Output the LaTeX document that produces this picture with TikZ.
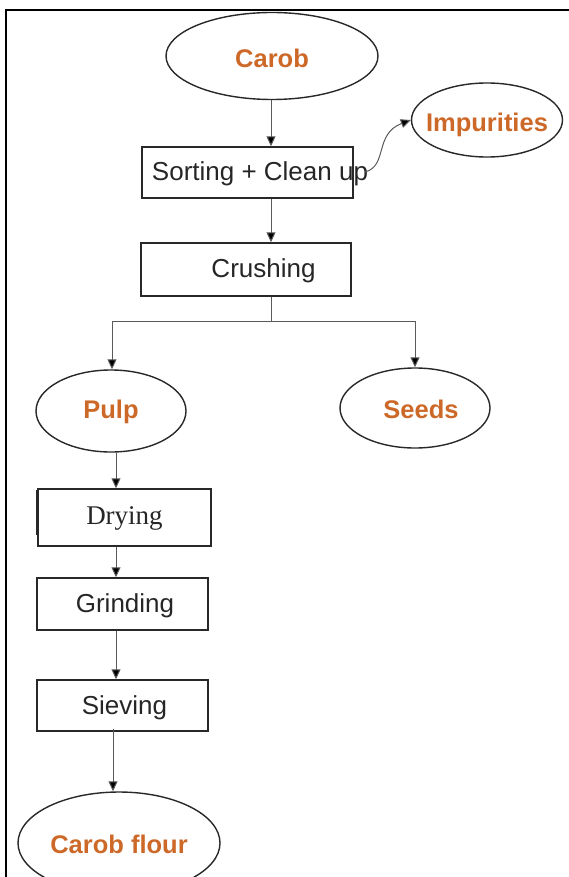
\documentclass[tikz,border=0pt]{standalone}
\usepackage{fontspec}
\setmainfont{Liberation Sans}
\newfontfamily\serifface{Liberation Serif}
\usetikzlibrary{shapes.geometric,arrows.meta}
\definecolor{carorange}{RGB}{205,105,40}
\definecolor{linegray}{RGB}{90,90,90}
\definecolor{edgedark}{RGB}{40,40,40}
\begin{document}
\begin{tikzpicture}[x=1pt,y=-1pt,
  oval/.style={ellipse,draw=edgedark,line width=1.4pt,inner sep=0pt},
  stepbox/.style={rectangle,draw=edgedark,line width=1.4pt,inner sep=0pt},
  outtxt/.style={text=carorange,font=\fontsize{25.5}{30}\selectfont\bfseries,inner sep=0pt},
  steptxt/.style={text=black!85,font=\fontsize{26}{30}\selectfont,inner sep=0pt},
  arr/.style={draw=linegray,line width=1pt,-{Triangle[length=10pt,width=9pt,fill=black]}},
  plain/.style={draw=linegray,line width=1pt}]
\useasboundingbox (0,0) rectangle (569,877);
% frame
\draw[line width=2.6pt] (5,10) -- (569,10);
\draw[line width=2.6pt] (6,8.7) -- (6,877);
% nodes
\node[oval,minimum width=212pt,minimum height=87pt] (carob) at (272,56) {};
\node[outtxt] (carobt) at (272,58) {Carob};
\node[oval,minimum width=151pt,minimum height=74pt] (imp) at (487,120) {};
\node[outtxt] (impt) at (487,125) {Impurities};
\node[stepbox,minimum width=211pt,minimum height=51pt] (sort) at (247.5,172.5) {};
\node[steptxt] (sortt) at (260,174) {Sorting + Clean up};
\node[stepbox,minimum width=210pt,minimum height=53pt] (crush) at (246,269.5) {};
\node[steptxt] (crusht) at (263.5,271) {Crushing};
\node[oval,minimum width=150pt,minimum height=82pt] (pulp) at (111,411) {};
\node[outtxt] (pulpt) at (111,412) {Pulp};
\node[oval,minimum width=150pt,minimum height=80pt] (seeds) at (415,408) {};
\node[outtxt] (seedst) at (421,409) {Seeds};
\node[stepbox,minimum width=173pt,minimum height=57pt] (dry) at (124.5,517.5) {};
\node[steptxt,font=\fontsize{27}{30}\selectfont\serifface] (dryt) at (124.5,518) {Drying};
\node[stepbox,minimum width=171pt,minimum height=52pt] (grind) at (122.5,604) {};
\node[steptxt] (grindt) at (125,606) {Grinding};
\node[stepbox,minimum width=171pt,minimum height=51pt] (sieve) at (122.5,705.5) {};
\node[steptxt] (sievet) at (124.5,708) {Sieving};
\node[oval,minimum width=202pt,minimum height=102pt] (flour) at (119,843) {};
\node[outtxt] (flourt) at (119,844) {Carob flour};
% left edge artefact of drying box
\draw[edgedark,line width=2.4pt] (37,490) -- (37,535);
% connectors
\coordinate (colA) at (271,0);
\coordinate (split) at (271,321);
\coordinate (colB) at (116,0);
\coordinate (colC) at (113,0);
\coordinate (curvestart) at (365,172);
\draw[arr] (carob.south -| colA) -- (sort.north -| colA);
\draw[arr] (sort.south -| colA) -- (crush.north -| colA);
\draw[plain] (crush.south -| colA) -- (split);
\draw[arr] (split) -| ([xshift=1pt]pulp.north);
\draw[arr] (split) -| (seeds.north);
\draw[arr] (pulp.south -| colB) -- (dry.north -| colB);
\draw[arr] (dry.south -| colB) -- (grind.north -| colB);
\draw[arr] (grind.south -| colB) -- (sieve.north -| colB);
\draw[arr] ([yshift=3pt]sieve.south -| colC) -- (flour.north -| colC);
\draw[arr] (curvestart) .. controls (388,166) and (374,134) .. (imp.west);
\end{tikzpicture}
\end{document}
